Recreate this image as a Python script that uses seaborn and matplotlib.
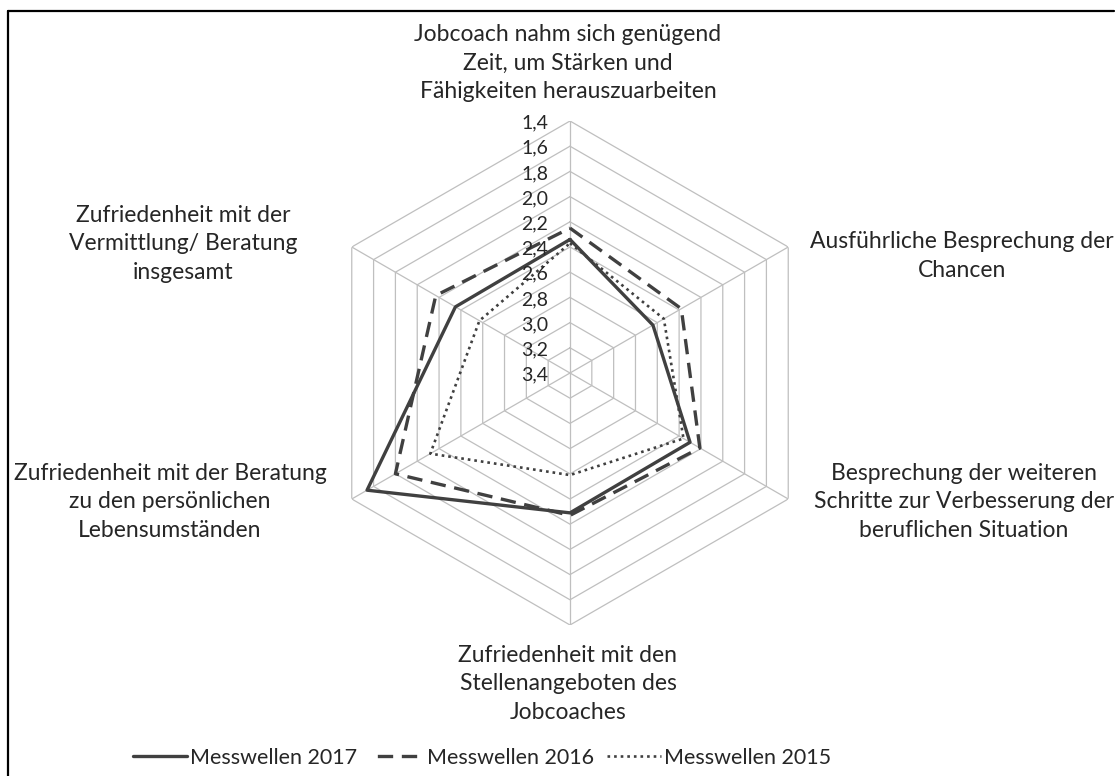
import numpy as np
import pandas as pd
import matplotlib
matplotlib.use("Agg")
import matplotlib.pyplot as plt
from matplotlib.lines import Line2D
import seaborn as sns

# ---------------- data ----------------
categories = [
    "Jobcoach nahm sich genügend\nZeit, um Stärken und\nFähigkeiten herauszuarbeiten",
    "Ausführliche Besprechung der\nChancen",
    "Besprechung der weiteren\nSchritte zur Verbesserung der\nberuflichen Situation",
    "Zufriedenheit mit den\nStellenangeboten des\nJobcoaches",
    "Zufriedenheit mit der Beratung\nzu den persönlichen\nLebensumständen",
    "Zufriedenheit mit der\nVermittlung/ Beratung\ninsgesamt",
]
values_2017 = [2.34, 2.64, 2.30, 2.29, 1.54, 2.35]
values_2016 = [2.25, 2.38, 2.21, 2.27, 1.80, 2.17]
values_2015 = [2.37, 2.54, 2.36, 2.59, 2.12, 2.57]
series_names = ["Messwellen 2017", "Messwellen 2016", "Messwellen 2015"]
tick_values = [1.4, 1.6, 1.8, 2.0, 2.2, 2.4, 2.6, 2.8, 3.0, 3.2, 3.4]
tick_labels = ["1,4", "1,6", "1,8", "2,0", "2,2", "2,4", "2,6", "2,8", "3,0", "3,2", "3,4"]

# ---------------- style ----------------
sns.set_theme(style="white")
plt.rcParams["font.family"] = ["Lato", "DejaVu Sans"]

W, H = 1115, 776
fig = plt.figure(figsize=(W / 100, H / 100), dpi=100)
fig.patch.set_facecolor("white")

cx, cy, R = 570, 373, 252
ax = fig.add_axes([(cx - R) / W, (H - cy - R) / H, 2 * R / W, 2 * R / H], projection="polar")
ax.set_theta_zero_location("N")
ax.set_theta_direction(-1)
ax.set_rlim(3.4, 1.4)
ax.grid(False)
ax.set_xticks([])
ax.set_yticks([])
ax.spines["polar"].set_visible(False)
ax.set_facecolor("none")

n = len(categories)
theta = np.arange(n) * 2 * np.pi / n
theta_closed = np.append(theta, 2 * np.pi)

grid_color = "#bfbfbf"
for rv in tick_values[:-1]:
    ax.plot(theta_closed, [rv] * (n + 1), color=grid_color, lw=0.9, zorder=1)
for th in theta:
    ax.plot([th, th], [3.4, 1.4], color=grid_color, lw=0.9, zorder=1)

line_color = "#404040"
styles = [
    dict(linestyle="-", lw=2.4),
    dict(linestyle=(0, (4.6, 2.6)), lw=2.4),
    dict(linestyle=(0, (1.0, 1.5)), lw=1.9),
]
legend_styles = [
    dict(linestyle="-", lw=2.4),
    dict(linestyle=(5.0, (4.6, 2.6)), lw=2.4),
    dict(linestyle=(0, (1.0, 1.5)), lw=1.9),
]
handles = []
for name, vals, st, lst in zip(series_names, [values_2017, values_2016, values_2015],
                               styles, legend_styles):
    df = pd.DataFrame({"theta": theta_closed, "value": vals + [vals[0]]})
    sns.lineplot(data=df, x="theta", y="value", ax=ax, sort=False, estimator=None,
                 color=line_color, zorder=3, **st)
    handles.append(Line2D([], [], color=line_color, **lst))
ax.set_xlabel("")
ax.set_ylabel("")
ax.set_rlim(3.4, 1.4)

# radial tick labels
for v, lab in zip(tick_values, tick_labels):
    ax.annotate(lab, xy=(0, v), xytext=(-22, -2), textcoords="offset pixels",
                ha="right", va="center", fontsize=14, color="#262626", zorder=4)

# category labels
label_pos = [(568, 63), (962, 256), (964, 502), (568, 684), (170, 502), (183, 244)]
for text, (px, py) in zip(categories, label_pos):
    fig.text(px / W, 1 - py / H, text, ha="center", va="center", multialignment="center",
             fontsize=16.5, color="#262626", linespacing=1.42)

# legend
fig.legend(handles, series_names, loc="center", bbox_to_anchor=(482 / W, 1 - 758 / H),
           ncol=3, frameon=False, fontsize=15.5, handlelength=2.5, handletextpad=0.15,
           columnspacing=0.6, labelcolor="#262626", borderpad=0.2)

# outer frame (left and top edges visible)
fig.add_artist(Line2D([7.5 / W, 7.5 / W], [0, 1 - 10.5 / H], transform=fig.transFigure,
                      color="black", lw=1.6))
fig.add_artist(Line2D([7.5 / W, 1113.5 / W], [1 - 10.5 / H, 1 - 10.5 / H], transform=fig.transFigure,
                      color="black", lw=1.6))

fig.savefig("out.png", dpi=100, facecolor="white")
